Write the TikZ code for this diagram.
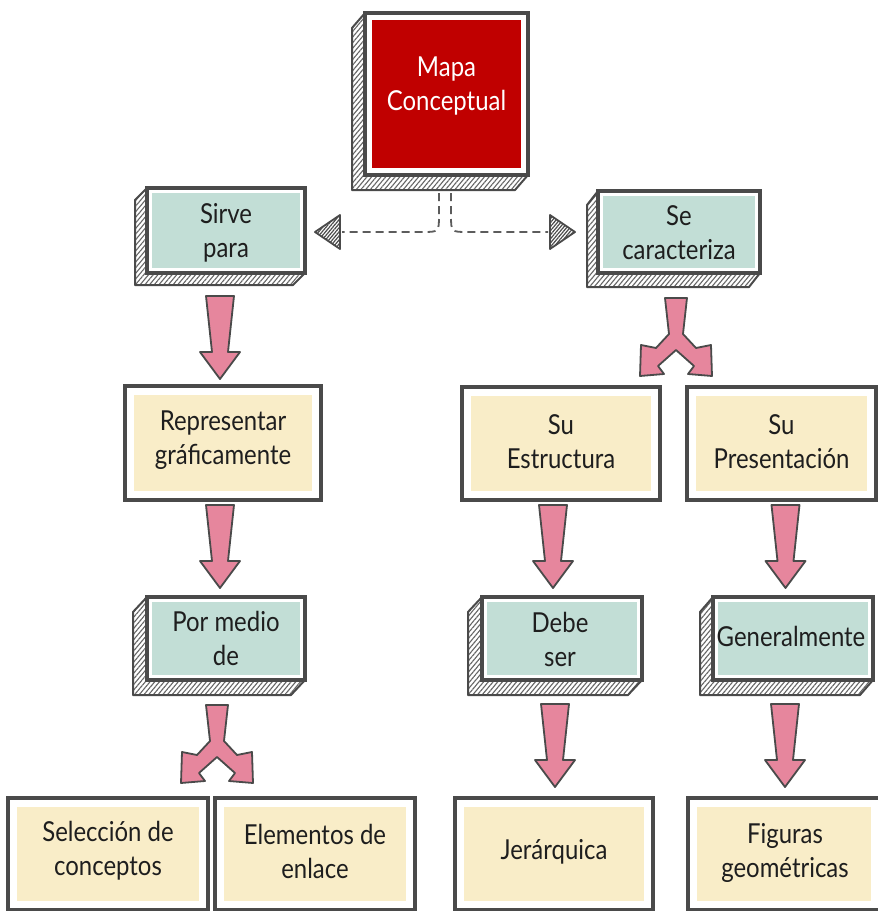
\documentclass[tikz,border=0pt]{standalone}
\usepackage{fontspec}
\setmainfont{Lato}[FakeStretch=0.87]
\usetikzlibrary{calc,patterns.meta}
\definecolor{bline}{HTML}{4A4A4A}
\definecolor{gfill}{HTML}{C2DED6}
\definecolor{yfill}{HTML}{F9EDC8}
\definecolor{rfill}{HTML}{C00000}
\definecolor{pfill}{HTML}{E6869D}
\definecolor{tcol}{HTML}{1E1E1E}
\tikzset{
  inset/.style 2 args={path picture={\fill[#1] ([xshift=#2,yshift=-#2]path picture bounding box.north west) rectangle ([xshift=-#2,yshift=#2]path picture bounding box.south east);}},
  front/.style={draw=bline, line width=3.4pt, fill=white, inner sep=0pt, outer sep=0pt, rectangle},
  gbox/.style={front, inset={gfill}{5pt}},
  ybox/.style={front, inset={yfill}{9pt}},
  rbox/.style={front, inset={rfill}{7pt}},
  hatchside/.style={draw=bline, line width=2pt, line join=round, pattern={Lines[angle=50,distance=3.6pt,line width=1.1pt]}, pattern color=bline!85},
  txt/.style={font=\fontsize{27.5}{34}\selectfont, align=center, text=tcol, inner sep=0pt},
  fat/.style={draw=bline, line width=1.8pt, fill=pfill, line join=round},
  dashline/.style={draw=bline!90, line width=1.8pt, dash pattern=on 8pt off 5pt},
  tipstyle/.style={draw=bline, line width=1.8pt, line join=round, pattern={Lines[angle=50,distance=2.6pt,line width=1.2pt]}, pattern color=bline},
  pics/fatdown/.style={code={
    \filldraw[fat] (-14,0) -- (14,0) -- (8,56) -- (20,56) -- (0,83) -- (-20,56) -- (-8,56) -- cycle;}},
  pics/fatsplit/.style={code={
    \filldraw[fat] (-11,0) -- (11,0) -- (7,36) -- (20,50) -- (35,47) -- (36,78) -- (12,76) -- (18,68) -- (0,52)
      -- (-18,68) -- (-12,76) -- (-36,78) -- (-35,47) -- (-20,50) -- (-7,36) -- cycle;}}
}
\newcommand{\shadowbox}[3]{% node, dx, dy
  \filldraw[hatchside] (#1.north west) -- ($(#1.north west)+(-#2,#3)$) -- ($(#1.south west)+(-#2,#3)$)
     -- ($(#1.south east)+(-#2,#3)$) -- (#1.south east) -- (#1.south west) -- cycle;}
\begin{document}
\begin{tikzpicture}[x=1pt,y=-1pt]
\useasboundingbox (0,0) rectangle (878,911);
\fill[white] (0,0) rectangle (878,911);
\clip (0,0) rectangle (878,911);

% ---- box shapes (named nodes) ----
\path (446.5,94) node[rbox, minimum width=163pt, minimum height=162pt] (mapa) {};
\path (226,230.5) node[gbox, minimum width=158pt, minimum height=85pt] (sirve) {};
\path (679,232) node[gbox, minimum width=162pt, minimum height=82pt] (secar) {};
\path (223,443) node[ybox, minimum width=196pt, minimum height=114pt] (repr) {};
\path (561,443.5) node[ybox, minimum width=198pt, minimum height=113pt] (suest) {};
\path (781.5,443.5) node[ybox, minimum width=189pt, minimum height=113pt] (supres) {};
\path (226,638.5) node[gbox, minimum width=158pt, minimum height=83pt] (pormedio) {};
\path (562,638.5) node[gbox, minimum width=160pt, minimum height=83pt] (debe) {};
\path (793,638.5) node[gbox, minimum width=160pt, minimum height=83pt] (gener) {};
\path (108,854) node[ybox, minimum width=200pt, minimum height=112pt] (selec) {};
\path (315,854) node[ybox, minimum width=200pt, minimum height=112pt] (elem) {};
\path (554,854) node[ybox, minimum width=198pt, minimum height=112pt] (jer) {};
\path (784,854) node[ybox, minimum width=192pt, minimum height=112pt] (fig) {};

% ---- hatched 3D sides ----
\shadowbox{mapa}{13}{15}
\shadowbox{sirve}{12}{12}
\shadowbox{secar}{11}{14}
\shadowbox{pormedio}{14}{15}
\shadowbox{debe}{14}{15}
\shadowbox{gener}{13}{15}
% redraw the fronts on top of the hatched sides
\path (mapa.center) node[rbox, minimum width=163pt, minimum height=162pt] (mapaF) {};
\path (sirve.center) node[gbox, minimum width=158pt, minimum height=85pt] (sirveF) {};
\path (secar.center) node[gbox, minimum width=162pt, minimum height=82pt] (secarF) {};
\path (pormedio.center) node[gbox, minimum width=158pt, minimum height=83pt] (pormedioF) {};
\path (debe.center) node[gbox, minimum width=160pt, minimum height=83pt] (debeF) {};
\path (gener.center) node[gbox, minimum width=160pt, minimum height=83pt] (generF) {};

% ---- texts ----
\node[txt, text=white] (tmapa) at ($(mapa.center)+(0,-8)$) {Mapa\\Conceptual};
\node[txt] (tsirve) at ($(sirve.center)+(0,2)$) {Sirve\\para};
\node[txt] (tsecar) at ($(secar.center)+(0,1)$) {Se\\caracteriza};
\node[txt] (trepr) at ($(repr.center)+(0,-3)$) {Representar\\gráficamente};
\node[txt] (tsuest) at ($(suest.center)+(0,-2)$) {Su\\Estructura};
\node[txt] (tsupres) at ($(supres.center)+(0,-2)$) {Su\\Presentación};
\node[txt] (tpormedio) at ($(pormedio.center)+(0,0)$) {Por medio\\de};
\node[txt] (tdebe) at ($(debe.center)+(-2,1)$) {Debe\\ser};
\node[txt] (tgener) at ($(gener.center)+(-2,-2)$) {Generalmente};
\node[txt] (tselec) at ($(selec.center)+(0,-3)$) {Selección de\\conceptos};
\node[txt] (telem) at ($(elem.center)+(0,-3)$) {Elementos de\\enlace};
\node[txt] (tjer) at ($(jer.center)+(0,-2)$) {Jerárquica};
\node[txt] (tfig) at ($(fig.center)+(1,-1)$) {Figuras\\geométricas};

% ---- pink arrows ----
\pic at ($(sirve.south)+(-6,23)$) {fatdown};
\pic at ($(repr.south)+(-3,5)$) {fatdown};
\pic at ($(suest.south)+(-8,5)$) {fatdown};
\pic at ($(supres.south)+(4,5)$) {fatdown};
\pic at ($(debe.south)+(-7,24)$) {fatdown};
\pic at ($(gener.south)+(-8,24)$) {fatdown};
\pic at ($(secar.south)+(-3,25)$) {fatsplit};
\pic at ($(pormedio.south)+(-9,25)$) {fatsplit};

% ---- dashed connectors with hatched tips ----
\coordinate (dl0) at ($(mapa.south)+(-7.5,18)$);
\coordinate (dr0) at ($(mapa.south)+(4.5,18)$);
\coordinate (ltip) at ($(sirve.east)+(10,1.5)$);
\coordinate (rtip) at ($(secar.west)+(-23,0)$);
\draw[dashline] (dl0) -- ++(0,22) .. controls ++(0,17) .. ++(-17,17) -- ($(ltip)+(27,0)$);
\draw[dashline] (dr0) -- ++(0,22) .. controls ++(0,17) .. ++(17,17) -- ($(rtip)+(-27,0)$);
\filldraw[tipstyle] (ltip) -- ++(25,-17) -- ++(0,34) -- cycle;
\filldraw[tipstyle] (rtip) -- ++(-25,-17) -- ++(0,34) -- cycle;
\end{tikzpicture}
\end{document}
